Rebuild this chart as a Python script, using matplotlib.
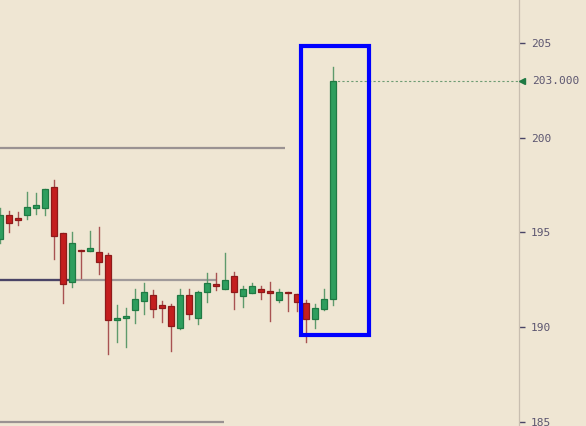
import numpy as np
import matplotlib.pyplot as plt
from matplotlib.patches import Rectangle

# OHLC (oldest first)
opens = [194.63, 195.90, 195.74, 195.93, 196.30, 196.30, 197.38, 194.95, 192.36, 194.06,
         194.00, 193.94, 193.79, 190.35, 190.49, 190.88, 191.36, 191.67, 191.14, 191.09,
         189.93, 191.67, 190.45, 191.83, 192.25, 192.02, 192.68, 191.65, 191.78, 191.99,
         191.88, 191.41, 191.85, 191.72, 191.25, 190.44, 190.97, 191.46]
highs = [196.27, 196.13, 196.07, 197.13, 197.08, 197.27, 197.76, 194.95, 195.02, 194.06,
         195.07, 195.28, 193.91, 191.16, 191.00, 192.00, 192.32, 191.95, 191.37, 191.21,
         192.00, 192.00, 191.90, 192.85, 192.85, 193.91, 192.89, 192.15, 192.32, 192.15,
         192.36, 191.99, 191.85, 191.72, 191.41, 191.20, 191.99, 203.73]
lows = [194.45, 195.02, 195.39, 195.72, 195.98, 195.93, 193.61, 191.28, 192.13, 192.60,
        194.00, 192.81, 188.59, 189.22, 188.96, 190.22, 190.70, 190.54, 190.28, 188.75,
        189.88, 190.44, 190.14, 191.33, 191.97, 192.02, 190.95, 191.07, 191.78, 191.49,
        190.33, 191.33, 190.86, 190.86, 189.22, 189.96, 190.91, 191.18]
closes = [195.91, 195.51, 195.67, 196.32, 196.43, 197.27, 194.82, 192.28, 194.42, 194.01,
          194.15, 193.45, 190.35, 190.46, 190.58, 191.46, 191.83, 190.93, 190.99, 190.03,
          191.67, 190.67, 191.83, 192.31, 192.15, 192.46, 191.86, 191.99, 192.15, 191.86,
          191.78, 191.83, 191.81, 191.30, 190.44, 190.99, 191.46, 203.00]

last_price = 203.0
y_ticks = [185, 190, 195, 200, 205]

# horizontal levels: (price, x start, x end, colour)
levels = [(199.45, -1, 31.6, '#9a9292'),
          (192.48, -1, 24.1, '#a09a9a'),
          (192.48, -1, 8.3, '#4a4466'),
          (185.0, -1, 24.9, '#9a9292')]

# highlight box (x0, x1, y0, y1)
box = (33.44, 40.97, 189.57, 204.84)

bg = '#efe6d3'
up_face, up_edge, up_wick = '#2e9e5e', '#1f7a44', '#5e9a6c'
dn_face, dn_edge, dn_wick = '#c41e1e', '#8e1a1a', '#a85252'

fig = plt.figure(figsize=(5.86, 4.26), dpi=100)
fig.patch.set_facecolor(bg)
ax = fig.add_axes([0, 0, 518.7 / 586, 1])
ax.set_facecolor(bg)

for price, xa, xb, col in levels:
    ax.plot([xa, xb], [price, price], color=col, lw=1.6, solid_capstyle='butt', zorder=1)

w = 0.68
for i in range(len(opens)):
    o, h, l, c = opens[i], highs[i], lows[i], closes[i]
    up = c >= o
    ax.plot([i, i], [l, h], color=up_wick if up else dn_wick, lw=1.0, zorder=2)
    lo, hi = min(o, c), max(o, c)
    ax.add_patch(Rectangle((i - w / 2, lo), w, max(hi - lo, 0.06),
                           facecolor=up_face if up else dn_face,
                           edgecolor=up_edge if up else dn_edge, lw=0.9, zorder=3))

# last price line + marker
n = len(opens)
ax.plot([n - 1, 60], [last_price, last_price], color='#6e9c74', lw=0.8,
        linestyle=(0, (2, 2)), zorder=2)
ax.plot([57.95], [last_price], marker='<', color='#1f7a44', markersize=5,
        clip_on=False, zorder=5)
ax.text(1.025, last_price, '203.000', transform=ax.get_yaxis_transform(),
        va='center', ha='left', family='DejaVu Sans Mono', fontsize=8,
        color='#5c5670', clip_on=False)

bx0, bx1, by0, by1 = box
ax.add_patch(Rectangle((bx0, by0), bx1 - bx0, by1 - by0, fill=False,
                       edgecolor='#0000ff', lw=3, zorder=6))

ax.set_xlim(-0.033, 57.6)
ax.set_ylim(184.77, 207.27)

for s in ['left', 'top', 'bottom']:
    ax.spines[s].set_visible(False)
ax.spines['right'].set_color('#c8beb0')
ax.spines['right'].set_linewidth(0.9)
ax.set_xticks([])
ax.yaxis.tick_right()
ax.set_yticks(y_ticks)
ax.tick_params(axis='y', direction='out', length=4, width=1.0, color='#4a4466',
               pad=5, labelcolor='#5c5670', labelsize=8)
for lab in ax.get_yticklabels():
    lab.set_family('DejaVu Sans Mono')

fig.savefig('out.png', dpi=100, facecolor=bg)
